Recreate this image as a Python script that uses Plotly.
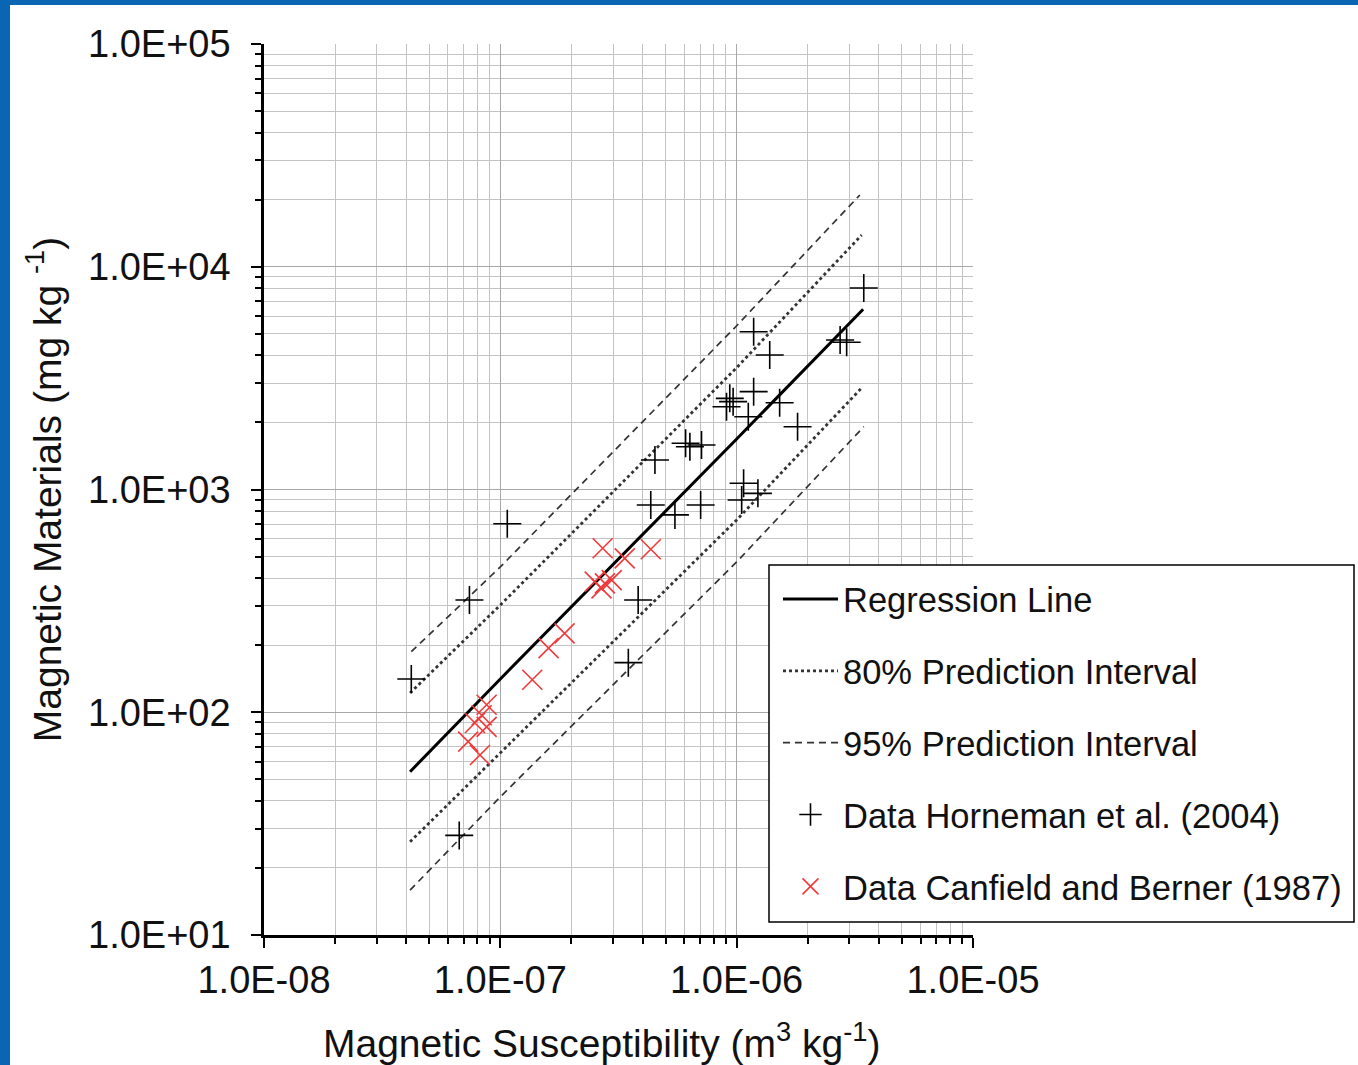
import plotly.graph_objects as go

# ---------------- data ----------------
x_ticks = [1e-8, 1e-7, 1e-6, 1e-5]
x_tick_labels = ["1.0E-08", "1.0E-07", "1.0E-06", "1.0E-05"]
y_ticks = [1e1, 1e2, 1e3, 1e4, 1e5]
y_tick_labels = ["1.0E+01", "1.0E+02", "1.0E+03", "1.0E+04", "1.0E+05"]

# Regression line and prediction intervals
reg_x = [4.15e-8, 1e-7, 1e-6, 3.43e-6]
reg_y = [54.1, 141, 1686, 6440]

pi80_up_x = [4.15e-8, 1e-7, 1e-6, 3.38e-6]
pi80_up_y = [122, 303, 3523, 13880]
pi80_lo_x = [4.15e-8, 1e-7, 1e-6, 3.40e-6]
pi80_lo_y = [26.2, 65.6, 730, 2877]

pi95_up_x = [4.2e-8, 1e-7, 1e-6, 3.32e-6]
pi95_up_y = [187, 449, 5436, 21000]
pi95_lo_x = [4.15e-8, 1e-7, 1e-6, 3.45e-6]
pi95_lo_y = [15.9, 41.7, 473, 1914]

# Data Horneman et al. (2004)
horneman_x = [4.2e-8, 7.4e-8, 1.07e-7, 6.7e-8, 3.83e-7, 3.48e-7, 4.33e-7,
              4.51e-7, 5.48e-7, 6.08e-7, 6.34e-7, 7.10e-7, 7.04e-7, 9.35e-7,
              9.66e-7, 9.06e-7, 1.12e-6, 1.18e-6, 1.18e-6, 1.38e-6, 1.52e-6,
              1.81e-6, 1.07e-6, 1.05e-6, 1.23e-6, 2.74e-6, 2.92e-6, 3.45e-6]
horneman_y = [141, 319, 702, 28, 319, 167, 852,
              1356, 769, 1612, 1556, 1585, 852, 2566,
              2480, 2354, 2122, 2750, 5110, 4016, 2453,
              1914, 1066, 897, 961, 4690, 4580, 8030]

# Data Canfield and Berner (1987)
canfield_x = [2.71e-7, 3.36e-7, 4.33e-7, 2.51e-7, 2.77e-7, 2.96e-7, 2.68e-7,
              1.87e-7, 1.60e-7, 1.365e-7, 8.75e-8, 8.34e-8, 7.81e-8, 8.75e-8,
              7.31e-8, 8.2e-8]
canfield_y = [545, 491, 539, 386, 379, 392, 360,
              226, 194, 140, 108, 97, 89.5, 86,
              73.8, 64.3]

x_title = "Magnetic Susceptibility (m<sup>3</sup> kg<sup>-1</sup>)"
y_title = "Magnetic Materials (mg kg <sup>-1</sup>)"

# ---------------- figure ----------------
FONT = "Liberation Sans, Arial, sans-serif"
line_gray = "#333333"

fig = go.Figure()

fig.add_trace(go.Scatter(x=reg_x, y=reg_y, mode="lines", name="Regression Line",
                         line=dict(color="black", width=3), legendgroup="g1"))
fig.add_trace(go.Scatter(x=pi80_up_x, y=pi80_up_y, mode="lines", name="80% Prediction Interval",
                         line=dict(color=line_gray, width=2.8, dash="dot"), legendgroup="g2"))
fig.add_trace(go.Scatter(x=pi80_lo_x, y=pi80_lo_y, mode="lines", name="80% Prediction Interval",
                         line=dict(color=line_gray, width=2.8, dash="dot"), legendgroup="g2",
                         showlegend=False))
fig.add_trace(go.Scatter(x=pi95_up_x, y=pi95_up_y, mode="lines", name="95% Prediction Interval",
                         line=dict(color=line_gray, width=1.7, dash="7px,5px"), legendgroup="g3"))
fig.add_trace(go.Scatter(x=pi95_lo_x, y=pi95_lo_y, mode="lines", name="95% Prediction Interval",
                         line=dict(color=line_gray, width=1.7, dash="7px,5px"), legendgroup="g3",
                         showlegend=False))
fig.add_trace(go.Scatter(x=horneman_x, y=horneman_y, mode="markers",
                         name="Data Horneman et al. (2004)", legendgroup="g4",
                         marker=dict(symbol="cross-thin", size=20, color="black",
                                     line=dict(color="black", width=1.6))))
fig.add_trace(go.Scatter(x=canfield_x, y=canfield_y, mode="markers",
                         name="Data Canfield and Berner (1987)", legendgroup="g5",
                         marker=dict(symbol="x-thin", size=20, color="#ff3b3b",
                                     line=dict(color="#f03a3a", width=1.6))))

def minor_vals(lo_exp, hi_exp):
    vals = []
    for e in range(lo_exp, hi_exp):
        for m in range(2, 10):
            vals.append(m * 10 ** e)
    return vals

axis_common = dict(
    type="log",
    showline=True, linecolor="black", linewidth=2.5,
    ticks="outside", ticklen=10, tickwidth=2.2, tickcolor="black",
    showgrid=True, gridcolor="#a8a8a8", gridwidth=1.3,
    zeroline=False,
    tickfont=dict(family=FONT, size=38, color="#111111"),
)

fig.update_xaxes(
    **axis_common,
    range=[-8, -5],
    tickvals=x_ticks, ticktext=x_tick_labels,
    minor=dict(tickvals=minor_vals(-8, -5), ticks="outside", ticklen=6, tickwidth=1.8,
               tickcolor="black", showgrid=True, gridcolor="#c4c4c4", gridwidth=1.2),
    ticklabelstandoff=0,
)
fig.update_yaxes(
    **axis_common,
    range=[1, 5],
    tickvals=y_ticks, ticktext=y_tick_labels,
    minor=dict(tickvals=minor_vals(1, 5), ticks="outside", ticklen=6, tickwidth=1.8,
               tickcolor="black", showgrid=True, gridcolor="#c4c4c4", gridwidth=1.2),
    title_text=y_title,
    title_font=dict(family=FONT, size=39, color="#111111"),
    title_standoff=15,
    ticklabelstandoff=13,
)

L, R, T, B = 264, 973, 44, 935
W, H = 1358, 1065
pw, ph = R - L, B - T

def px(xp):
    return (xp - L) / pw

def py(yp):
    return (B - yp) / ph

# x-axis title (placed slightly left of centre, as in the original)
fig.add_annotation(text=x_title, xref="paper", yref="paper", x=px(602), y=py(1040),
                   xanchor="center", yanchor="middle", showarrow=False,
                   font=dict(family=FONT, size=39, color="#111111"))

border_blue = "#0a66b2"
fig.add_shape(type="rect", xref="paper", yref="paper", x0=px(0), x1=px(10), y0=py(H), y1=py(0),
              fillcolor=border_blue, line=dict(width=0), layer="above")
fig.add_shape(type="rect", xref="paper", yref="paper", x0=px(0), x1=px(W), y0=py(5), y1=py(0),
              fillcolor=border_blue, line=dict(width=0), layer="above")
# legend frame
fig.add_shape(type="rect", xref="paper", yref="paper", x0=px(769), x1=px(1354), y0=py(922), y1=py(565),
              fillcolor="white", line=dict(color="black", width=1.5), layer="above")

fig.update_layout(
    width=W, height=H,
    margin=dict(l=L, r=W - R, t=T, b=H - B, autoexpand=False),
    paper_bgcolor="white", plot_bgcolor="white",
    font=dict(family=FONT, color="#111111"),
    legend=dict(
        x=px(778), y=py(570), xanchor="left", yanchor="top",
        borderwidth=0, bgcolor="rgba(0,0,0,0)",
        font=dict(family=FONT, size=34.5, color="#111111"),
        tracegroupgap=24, itemwidth=55,
    ),
    showlegend=True,
)

fig.write_html("out.html", config={"displayModeBar": False},
               post_script="document.body.style.margin='0';document.body.style.padding='0';")
